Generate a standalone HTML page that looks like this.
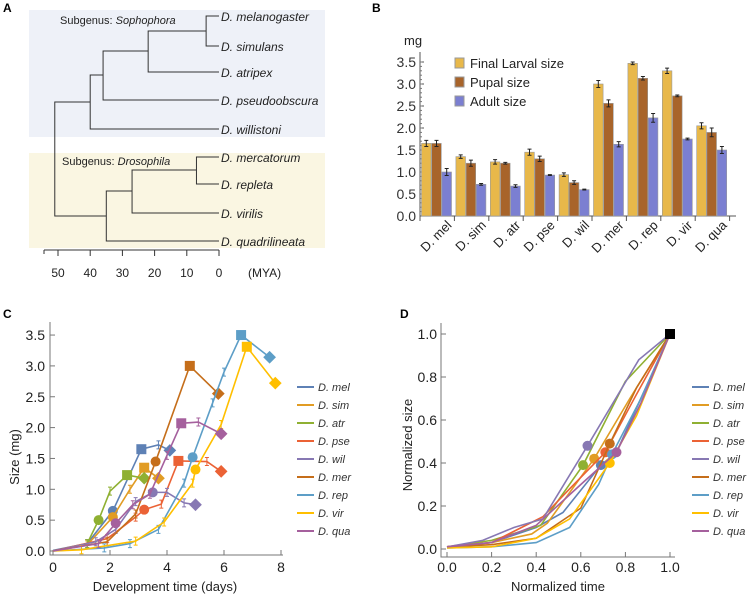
<!DOCTYPE html>
<html><head><meta charset="utf-8"><style>
body{margin:0;background:#fff;width:747px;height:596px;overflow:hidden}
svg{position:absolute;left:0;top:0}
text{font-family:"Liberation Sans",sans-serif}
</style></head><body>
<svg id="s" width="747" height="596" viewBox="0 0 747 596"></svg>
<script>
// ---------- Data ----------
// Panel A tree
const treeTips=["D. melanogaster","D. simulans","D. atripex","D. pseudoobscura","D. willistoni","D. mercatorum","D. repleta","D. virilis","D. quadrilineata"];
const myaTicks=[50,40,30,20,10,0];
// Panel B
const bCats=["D. mel","D. sim","D. atr","D. pse","D. wil","D. mer","D. rep","D. vir","D. qua"];
const larval=[1.65,1.35,1.23,1.45,0.94,3.0,3.47,3.3,2.05];
const pupal=[1.65,1.2,1.2,1.3,0.76,2.56,3.13,2.73,1.9];
const adult=[1.0,0.72,0.68,0.93,0.6,1.63,2.23,1.75,1.5];
const larvalErr=[0.07,0.04,0.05,0.07,0.04,0.08,0.03,0.06,0.07];
const pupalErr=[0.07,0.07,0.02,0.06,0.04,0.08,0.04,0.02,0.1];
const adultErr=[0.08,0.02,0.03,0.01,0.01,0.06,0.1,0.02,0.08];
const bTicks=[0,0.5,1.0,1.5,2.0,2.5,3.0,3.5];
const bSeries=["Final Larval size","Pupal size","Adult size"];
// Panel C
const cNames=["D. mel","D. sim","D. atr","D. pse","D. wil","D. mer","D. rep","D. vir","D. qua"];
const cDays=[
[0,1.2,2.1,3.1,3.7,4.1],
[0,1.2,2.1,2.7,3.2,3.7],
[0,1.2,1.6,2.0,2.6,3.2],
[0,1.9,2.9,3.2,3.8,4.4,5.4,5.9],
[0,1.5,2.2,2.9,3.5,4.0,4.6,5.0],
[0,1.9,2.9,3.6,4.8,5.8],
[0,1.8,2.7,3.7,4.6,4.9,5.6,6.0,6.6,7.6],
[0,1.0,2.9,3.9,4.9,5.0,5.9,6.8,7.8],
[0,1.6,2.2,2.8,3.4,4.0,4.5,5.1,5.9]];
const cSize=[
[0.01,0.12,0.65,1.65,1.72,1.63],
[0,0.1,0.55,1.0,1.35,1.18],
[0,0.12,0.5,0.97,1.23,1.18],
[0,0.2,0.55,0.67,0.76,1.46,1.45,1.29],
[0,0.15,0.35,0.8,0.95,0.95,0.78,0.75],
[0,0.15,0.6,1.45,3.0,2.55],
[0,0.05,0.12,0.35,1.1,1.52,2.4,2.9,3.5,3.14],
[0,0.02,0.16,0.47,1.1,1.32,2.05,3.31,2.72],
[0,0.12,0.45,0.75,0.92,1.55,2.07,2.09,1.9]];
const cCircleIdx=[2,2,2,3,4,3,5,5,2];
const cSquareIdx=[3,4,4,5,-1,4,8,7,6];
const cXTicks=[0,2,4,6,8];
const cYTicks=[0,0.5,1.0,1.5,2.0,2.5,3.0,3.5];
// Panel D
const dTime=[
[0,0.2,0.4,0.52,0.69,0.76,1],
[0,0.2,0.38,0.45,0.66,0.82,1],
[0,0.2,0.42,0.61,0.8,1],
[0,0.2,0.43,0.55,0.71,0.85,1],
[0,0.16,0.3,0.43,0.63,0.86,1],
[0,0.2,0.4,0.6,0.73,0.85,1],
[0,0.2,0.4,0.55,0.68,0.74,0.87,1],
[0,0.2,0.4,0.55,0.73,0.85,1],
[0,0.2,0.4,0.6,0.76,0.87,1]];
const dSize=[
[0.01,0.03,0.1,0.17,0.39,0.45,1],
[0.01,0.03,0.07,0.12,0.42,0.7,1],
[0.01,0.04,0.11,0.39,0.78,1],
[0.01,0.03,0.15,0.28,0.45,0.72,1],
[0.01,0.04,0.1,0.14,0.48,0.88,1],
[0.01,0.02,0.05,0.19,0.49,0.75,1],
[0.005,0.01,0.03,0.1,0.3,0.44,0.7,1],
[0.005,0.01,0.05,0.14,0.40,0.62,1],
[0.01,0.03,0.11,0.3,0.45,0.68,1]];
const dMarkIdx=[4,4,3,4,4,4,5,4,4];
const dTicks=[0,0.2,0.4,0.6,0.8,1.0];
const colors=["#5e81b5","#e19c24","#8fb032","#eb6235","#8778b3","#c56e1a","#5d9ec7","#ffbf00","#a5609d"];

// ---------- helpers ----------
const S=document.getElementById('s');const NS="http://www.w3.org/2000/svg";
function mk(tag,at,parent){const e=document.createElementNS(NS,tag);for(const k in at)e.setAttribute(k,at[k]);(parent||S).appendChild(e);return e;}
function txt(x,y,s,at,parent){const e=mk('text',Object.assign({x:x,y:y},at||{}),parent);e.textContent=s;return e;}

// panel letters
[["A",3,12],["B",372,12],["C",3,318],["D",400,318]].forEach(p=>{const t=txt(p[1],p[2],p[0],{'font-size':12,'font-weight':'bold'});

});

// ---------- Panel A ----------
const gA=mk('g',{});


mk('rect',{x:29,y:10,width:296,height:127,fill:'#eef1f8'},gA);
mk('rect',{x:29,y:153,width:296,height:95,fill:'#faf6e2'},gA);
const ax=m=>219-m*3.22;
const tipY=[16,46,72,100,129,157,184,213,241];
treeTips.forEach((n,i)=>{const t=txt(221,tipY[i]+5,n,{'font-size':12,'font-style':'italic',fill:'#222'},gA);

});
function br(m,ya,yb,ma,mb){mk('path',{d:`M${ax(ma)},${ya}H${ax(m)}V${yb}H${ax(mb)}`,fill:'none',stroke:'#333','stroke-width':1},gA);}
br(4,tipY[0],tipY[1],0,0);
br(22,31,tipY[2],4,0);
br(36,51,tipY[3],22,0);
br(40,75,tipY[4],36,0);
br(7,tipY[5],tipY[6],0,0);
br(27,170,tipY[7],7,0);
br(35,191,tipY[8],27,0);
br(51,102,216,40,35);
txt(60,24,'',{'font-size':11,fill:'#222'},gA).innerHTML='Subgenus: <tspan font-style="italic">Sophophora</tspan>';
txt(62,165,'',{'font-size':11,fill:'#222'},gA).innerHTML='Subgenus: <tspan font-style="italic">Drosophila</tspan>';
mk('line',{x1:44,y1:250,x2:219,y2:250,stroke:'#333'},gA);
mk('line',{x1:44,y1:250,x2:44,y2:254,stroke:'#333'},gA);
const mya=mk('g',{},gA);


myaTicks.forEach(m=>{mk('line',{x1:ax(m),y1:250,x2:ax(m),y2:256,stroke:'#333'},mya);txt(ax(m),277,String(m),{'font-size':12,'text-anchor':'middle',fill:'#222'},mya);});
txt(248,277,'(MYA)',{'font-size':12,fill:'#222'},gA);

// ---------- Panel B ----------
const gB=mk('g',{});


const bx0=420,bw=34.4,by=v=>216-v*44;
const bcol=["#e8b84a","#a8642a","#7b7fd1"];
const bvals=[larval,pupal,adult],berrs=[larvalErr,pupalErr,adultErr];
mk('line',{x1:bx0,y1:216,x2:736,y2:216,stroke:'#555'},gB);
mk('line',{x1:bx0,y1:52,x2:bx0,y2:216,stroke:'#555'},gB);
bTicks.forEach(v=>{mk('line',{x1:bx0,y1:by(v),x2:bx0+4,y2:by(v),stroke:'#555'},gB);txt(bx0-4,by(v)+5,v.toFixed(1),{'font-size':14,'text-anchor':'end',fill:'#333'},gB);});
for(let v=0.1;v<3.6;v+=0.1){mk('line',{x1:bx0,y1:by(v),x2:bx0+2,y2:by(v),stroke:'#777'},gB);}
txt(404,45,'mg',{'font-size':13,fill:'#222'},gB);
bCats.forEach((c,i)=>{const gx=bx0+i*bw;
mk('line',{x1:gx,y1:216,x2:gx,y2:221,stroke:'#555'},gB);
for(let s=0;s<3;s++){const x=gx+1.5+s*10.2,v=bvals[s][i],e=berrs[s][i];
const r=mk('rect',{x:x,y:by(v),width:9.6,height:216-by(v),fill:bcol[s],stroke:'#999','stroke-width':0.6},gB);


const cx=x+4.8;mk('path',{d:`M${cx},${by(v+e)}V${by(v-e)}M${cx-2},${by(v+e)}H${cx+2}M${cx-2},${by(v-e)}H${cx+2}`,stroke:'#222','stroke-width':1},gB);}
const lx=gx+bw-2,ly=226;
const t=txt(lx,ly,c,{'font-size':13,'text-anchor':'end',fill:'#222',transform:`rotate(-45 ${lx} ${ly})`},gB);

});
mk('line',{x1:bx0+9*bw,y1:216,x2:bx0+9*bw,y2:221,stroke:'#555'},gB);
bSeries.forEach((n,s)=>{const y=58+s*19;const r=mk('rect',{x:455,y:y,width:9,height:10,fill:bcol[s],stroke:'#999'},gB);


txt(470,y+10,n,{'font-size':13,fill:'#222'},gB);});

// ---------- Panel C ----------
const gC=mk('g',{});


const cx=d=>53+d*28.5,cy=v=>551-v*61.7;
mk('path',{d:'M50,322V555H283',fill:'none',stroke:'#777'},gC);
cXTicks.forEach(v=>{mk('line',{x1:cx(v),y1:555,x2:cx(v),y2:550,stroke:'#777'},gC);txt(cx(v),572,String(v),{'font-size':14,'text-anchor':'middle',fill:'#222'},gC);});
cYTicks.forEach(v=>{mk('line',{x1:50,y1:cy(v),x2:55,y2:cy(v),stroke:'#777'},gC);txt(45,cy(v)+5,v.toFixed(1),{'font-size':14,'text-anchor':'end',fill:'#222'},gC);});
txt(165,591,'Development time (days)',{'font-size':13,'text-anchor':'middle',fill:'#222'},gC);
txt(0,0,'Size (mg)',{'font-size':13,'text-anchor':'middle',fill:'#222',transform:'translate(19,457) rotate(-90)'},gC);
cNames.forEach((n,i)=>{const xs=cDays[i],ys=cSize[i],col=colors[i];
const p=mk('polyline',{points:xs.map((d,j)=>cx(d)+','+cy(ys[j])).join(' '),fill:'none',stroke:col,'stroke-width':1.6},gC);


xs.forEach((d,j)=>{const X=cx(d),Y=cy(ys[j]);const last=j==xs.length-1;
if(j==cCircleIdx[i])mk('circle',{cx:X,cy:Y,r:5,fill:col},gC);
else if(j==cSquareIdx[i])mk('rect',{x:X-5,y:Y-5,width:10,height:10,fill:col},gC);
else if(last)mk('rect',{x:X-4.5,y:Y-4.5,width:9,height:9,fill:col,transform:`rotate(45 ${X} ${Y})`},gC);
else if(d>0)mk('path',{d:`M${X},${Y-4}V${Y+4}M${X-2},${Y-4}H${X+2}M${X-2},${Y+4}H${X+2}`,stroke:col,'stroke-width':1},gC);});
const ly=387+i*18;mk('line',{x1:297,y1:ly,x2:314,y2:ly,stroke:col,'stroke-width':2},gC);
const t=txt(318,ly+4,n,{'font-size':11,'font-style':'italic',fill:'#333'},gC);

});

// ---------- Panel D ----------
const gD=mk('g',{});


const dx=v=>447+v*223,dy=v=>549-v*215;
mk('path',{d:'M441,323V557H675',fill:'none',stroke:'#777'},gD);
dTicks.forEach(v=>{mk('line',{x1:dx(v),y1:557,x2:dx(v),y2:552,stroke:'#777'},gD);txt(dx(v),572,v.toFixed(1),{'font-size':14,'text-anchor':'middle',fill:'#222'},gD);
mk('line',{x1:441,y1:dy(v),x2:446,y2:dy(v),stroke:'#777'},gD);txt(437,dy(v)+5,v.toFixed(1),{'font-size':14,'text-anchor':'end',fill:'#222'},gD);});
txt(558,591,'Normalized time',{'font-size':13,'text-anchor':'middle',fill:'#222'},gD);
txt(0,0,'Normalized size',{'font-size':13,'text-anchor':'middle',fill:'#222',transform:'translate(412,445) rotate(-90)'},gD);
cNames.forEach((n,i)=>{const col=colors[i];
const p=mk('polyline',{points:dTime[i].map((t,j)=>dx(t)+','+dy(dSize[i][j])).join(' '),fill:'none',stroke:col,'stroke-width':1.6},gD);


const k=dMarkIdx[i];mk('circle',{cx:dx(dTime[i][k]),cy:dy(dSize[i][k]),r:5,fill:col},gD);
const ly=387+i*18;mk('line',{x1:692,y1:ly,x2:709,y2:ly,stroke:col,'stroke-width':2},gD);
const t=txt(713,ly+4,n,{'font-size':11,'font-style':'italic',fill:'#333'},gD);

});
mk('rect',{x:dx(1)-5,y:dy(1)-5,width:10,height:10,fill:'#000'},gD);
</script>
</body></html>
